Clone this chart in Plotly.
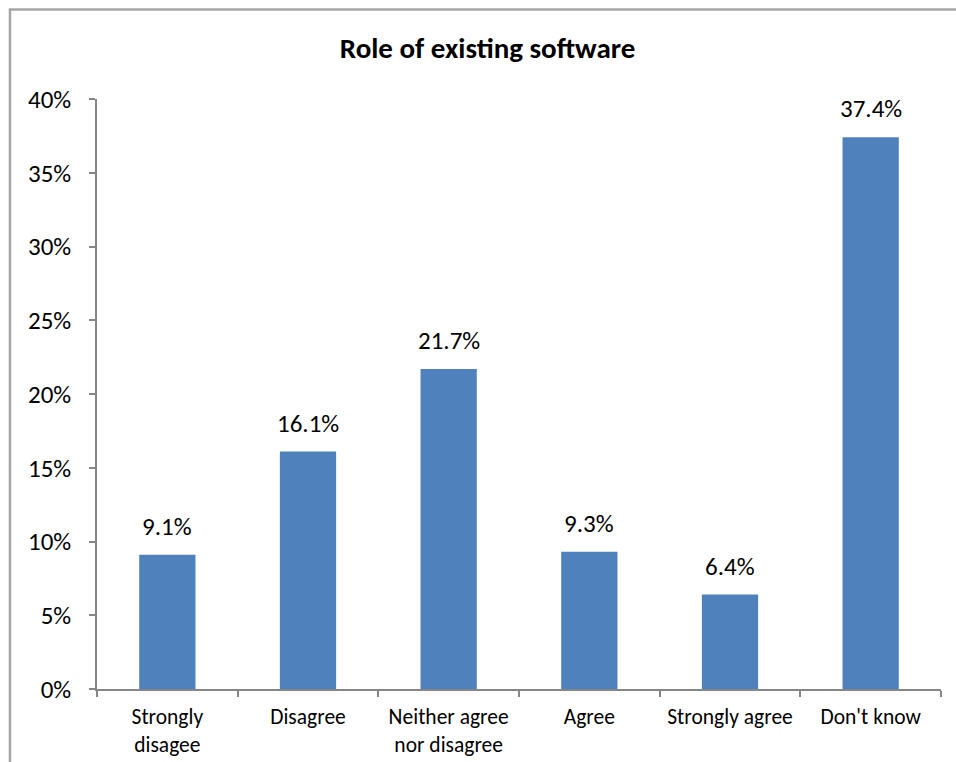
import plotly.graph_objects as go

categories = ["Strongly<br>disagee", "Disagree", "Neither agree<br>nor disagree", "Agree", "Strongly agree", "Don't know"]
values = [9.1, 16.1, 21.7, 9.3, 6.4, 37.4]
labels = ["9.1%", "16.1%", "21.7%", "9.3%", "6.4%", "37.4%"]
y_ticks = [0, 5, 10, 15, 20, 25, 30, 35, 40]
y_tick_text = ["0%", "5%", "10%", "15%", "20%", "25%", "30%", "35%", "40%"]

FONT = "Calibri, Carlito, Lato, sans-serif"
AXIS_COLOR = "#868686"

fig = go.Figure(
    go.Bar(
        x=categories,
        y=values,
        marker=dict(color="#4F81BD", line=dict(width=0)),
        width=0.4,
        hoverinfo="skip",
    )
)

for cat, val, lab in zip(categories, values, labels):
    fig.add_annotation(
        x=cat, y=val, text=lab, showarrow=False,
        yanchor="bottom", yshift=11,
        font=dict(family=FONT, size=25, color="#000000"),
    )

fig.update_layout(
    width=956, height=762,
    margin=dict(l=97, r=15, t=99, b=73, autoexpand=False),
    paper_bgcolor="white", plot_bgcolor="white",
    showlegend=False,
    bargap=0.6,
    title=dict(
        text="<b>Role of existing software</b>",
        x=0.51, xanchor="center", y=0.937, yanchor="middle",
        font=dict(family=FONT, size=29, color="#000000"),
    ),
    font=dict(family=FONT, color="#000000"),
    shapes=[
        dict(type="rect", xref="paper", yref="paper",
             x0=-0.1031, x1=1.2, y0=-0.2, y1=1.1519,
             line=dict(color="#A6A6A6", width=2.5), fillcolor="rgba(0,0,0,0)",
             layer="below"),
    ],
)

fig.update_xaxes(
    automargin=False,
    showline=True, linecolor=AXIS_COLOR, linewidth=1.5,
    ticks="outside", ticklen=6, tickcolor=AXIS_COLOR, tickwidth=1.5,
    tickson="boundaries", ticklabelstandoff=7,
    tickfont=dict(family=FONT, size=21.5, color="#000000"),
    showgrid=False, zeroline=False,
)
fig.update_yaxes(
    automargin=False,
    range=[0, 40],
    tickvals=y_ticks, ticktext=y_tick_text,
    showline=True, linecolor=AXIS_COLOR, linewidth=1.5,
    ticks="outside", ticklen=6, tickcolor=AXIS_COLOR, tickwidth=1.5,
    ticklabelstandoff=13,
    tickfont=dict(family=FONT, size=25, color="#000000"),
    showgrid=False, zeroline=False,
)

fig.write_html("out.html")
